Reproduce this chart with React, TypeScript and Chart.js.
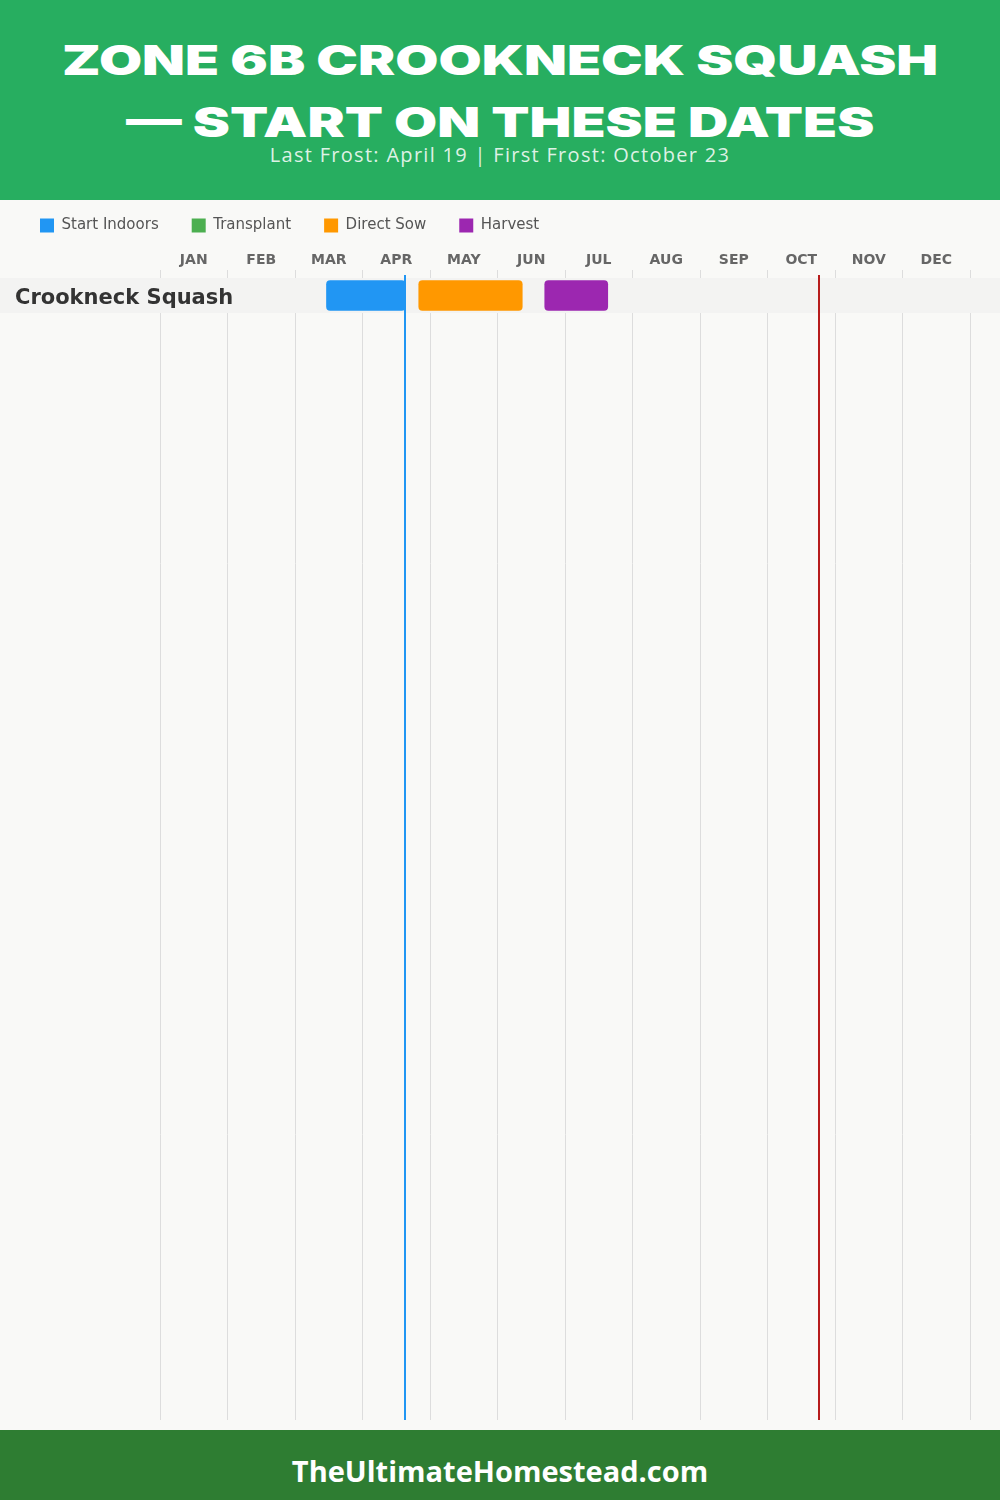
import React, { useEffect, useRef } from 'react';
import { Chart, registerables } from 'chart.js';

Chart.register(...registerables);

// ---------- data ----------
const TITLE_LINES = ['ZONE 6B CROOKNECK SQUASH', '— START ON THESE DATES'];
const SUBTITLE = 'Last Frost: April 19 | First Frost: October 23';
const FOOTER = 'TheUltimateHomestead.com';

const MONTHS = ['JAN', 'FEB', 'MAR', 'APR', 'MAY', 'JUN', 'JUL', 'AUG', 'SEP', 'OCT', 'NOV', 'DEC'];
const CROPS = ['Crookneck Squash'];
const STAGES = ['Start Indoors', 'Transplant', 'Direct Sow', 'Harvest'];
const STAGE_COLORS = ['#2196F3', '#4CAF50', '#FF9800', '#9C27B0'];
// [month, day] windows for the crop (null = stage not used)
const STAGE_START: ([number, number] | null)[] = [[3, 14], null, [4, 25], [6, 21]];
const STAGE_END: ([number, number] | null)[] = [[4, 19], null, [6, 11], [7, 19]];
const FROST_NAMES = ['Last Frost', 'First Frost'];
const FROST_DATES: [number, number][] = [[4, 19], [10, 23]];
const FROST_COLORS = ['#2196F3', '#B71C1C'];

const VISIBLE_ROWS = 32.63;
const LABEL_NUDGE = 0.085;
const CHART_FONT = '"DejaVu Sans", "Open Sans", sans-serif';

const toPos = (md: [number, number]) => md[0] - 1 + md[1] / 30;

const rowBandPlugin = {
  id: 'rowBand',
  beforeDatasetsDraw(chart: any) {
    const { ctx } = chart;
    const y = chart.scales.y;
    ctx.save();
    ctx.fillStyle = '#f3f3f2';
    CROPS.forEach((_, i) => {
      const top = y.getPixelForValue(i);
      const bot = y.getPixelForValue(i + 1);
      ctx.fillRect(0, top, chart.width, bot - top);
    });
    ctx.restore();
  },
};

const frostPlugin = {
  id: 'frostLines',
  afterDatasetsDraw(chart: any) {
    const { ctx, chartArea } = chart;
    const x = chart.scales.x;
    ctx.save();
    FROST_DATES.forEach((d, i) => {
      const px = Math.round(x.getPixelForValue(toPos(d)));
      ctx.strokeStyle = FROST_COLORS[i];
      ctx.lineWidth = 2;
      ctx.beginPath();
      ctx.moveTo(px, chartArea.top - 3);
      ctx.lineTo(px, chartArea.bottom);
      ctx.stroke();
    });
    ctx.restore();
  },
};

function GanttChart() {
  const ref = useRef<HTMLCanvasElement>(null);
  useEffect(() => {
    if (!ref.current) return;
    const datasets = STAGES.map((label, i) => ({
      label,
      data: STAGE_START[i] && STAGE_END[i]
        ? CROPS.map((_, r) => ({ x: [toPos(STAGE_START[i]!), toPos(STAGE_END[i]!)], y: r + 0.5 }))
        : [],
      backgroundColor: STAGE_COLORS[i],
      borderWidth: 0,
      borderRadius: 4,
      borderSkipped: false,
      barThickness: 30,
      grouped: false,
    }));
    const chart = new Chart(ref.current, {
      type: 'bar',
      data: { datasets: datasets as any },
      plugins: [rowBandPlugin, frostPlugin],
      options: {
        indexAxis: 'y',
        animation: false,
        responsive: false,
        events: [],
        layout: { padding: { left: 7, right: 30, top: 0, bottom: 0 } },
        plugins: {
          tooltip: { enabled: false },
          legend: {
            display: true,
            position: 'top',
            align: 'start',
            labels: {
              boxWidth: 14,
              boxHeight: 14,
              padding: 33,
              color: '#555555',
              font: { family: CHART_FONT, size: 15 },
            },
          },
        },
        scales: {
          x: {
            type: 'linear',
            position: 'top',
            min: 0,
            max: 12,
            weight: 0,
            ticks: { display: false, stepSize: 1 },
            grid: { display: true, color: '#dddddd', drawTicks: true, tickLength: 8, lineWidth: 1 },
            border: { display: false },
          },
          x2: {
            type: 'category',
            labels: MONTHS,
            position: 'top',
            offset: true,
            weight: 1,
            grid: { display: false, drawTicks: false },
            border: { display: false },
            ticks: { color: '#666666', font: { family: CHART_FONT, size: 14, weight: 'bold' }, padding: 1, maxRotation: 0, autoSkip: false },
            afterFit: (s: any) => { s.height = 27; s.paddingLeft = 0; s.paddingRight = 0; },
          },
          y: {
            type: 'linear',
            reverse: true,
            offset: false,
            min: 0,
            max: VISIBLE_ROWS,
            grid: { display: false, drawTicks: false },
            border: { display: false },
            afterBuildTicks: (s: any) => { s.ticks = CROPS.map((_, i) => ({ value: i + 0.5 + LABEL_NUDGE })); },
            ticks: {
              z: 1,
              mirror: true,
              padding: -145,
              color: '#333333',
              font: { family: CHART_FONT, size: 21, weight: 'bold' },
              callback: (_v: any, i: number) => CROPS[i],
            },
            afterFit: (s: any) => { s.width = 153; s.paddingTop = 0; s.paddingBottom = 0; },
          },
        },
      } as any,
    });
    return () => chart.destroy();
  }, []);
  return <canvas ref={ref} width={1000} height={1235} style={{ position: 'absolute', left: 0, top: 185, width: 1000, height: 1235 }} />;
}

export default function App() {
  return (
    <div style={{ position: 'absolute', left: 0, top: 0, width: 1000, height: 1500, background: '#f9f9f7', overflow: 'hidden' }}>
      <GanttChart />
      <div style={{ position: 'absolute', left: 0, top: 0, width: 1000, height: 200, background: '#27AE60', zIndex: 2 }}>
        {TITLE_LINES.map((t, i) => (
          <div key={i} style={{ position: 'absolute', left: 0, width: 1000, top: 39.5 + i * 62, textAlign: 'center', whiteSpace: 'nowrap' }}>
            <span style={{ display: 'inline-block', transform: 'scaleX(1.36)', transformOrigin: 'center', color: '#ffffff', fontFamily: 'Inter, "DejaVu Sans", sans-serif', fontSize: 41, lineHeight: '41px', fontWeight: 900 }}>{t}</span>
          </div>
        ))}
        <div style={{ position: 'absolute', left: 0, width: 1000, top: 144, textAlign: 'center', color: 'rgba(255,255,255,0.85)', fontFamily: '"Open Sans", sans-serif', fontSize: 20, lineHeight: '22px', letterSpacing: 1.3, whiteSpace: 'nowrap' }}>{SUBTITLE}</div>
      </div>
      <div style={{ position: 'absolute', left: 0, top: 1430, width: 1000, height: 70, background: '#2E7D32', zIndex: 2 }}>
        <div style={{ position: 'absolute', left: 0, width: 1000, top: 26, textAlign: 'center', color: '#ffffff', fontFamily: '"Open Sans", sans-serif', fontSize: 29, lineHeight: '30px', fontWeight: 700, whiteSpace: 'nowrap' }}>{FOOTER}</div>
      </div>
    </div>
  );
}
